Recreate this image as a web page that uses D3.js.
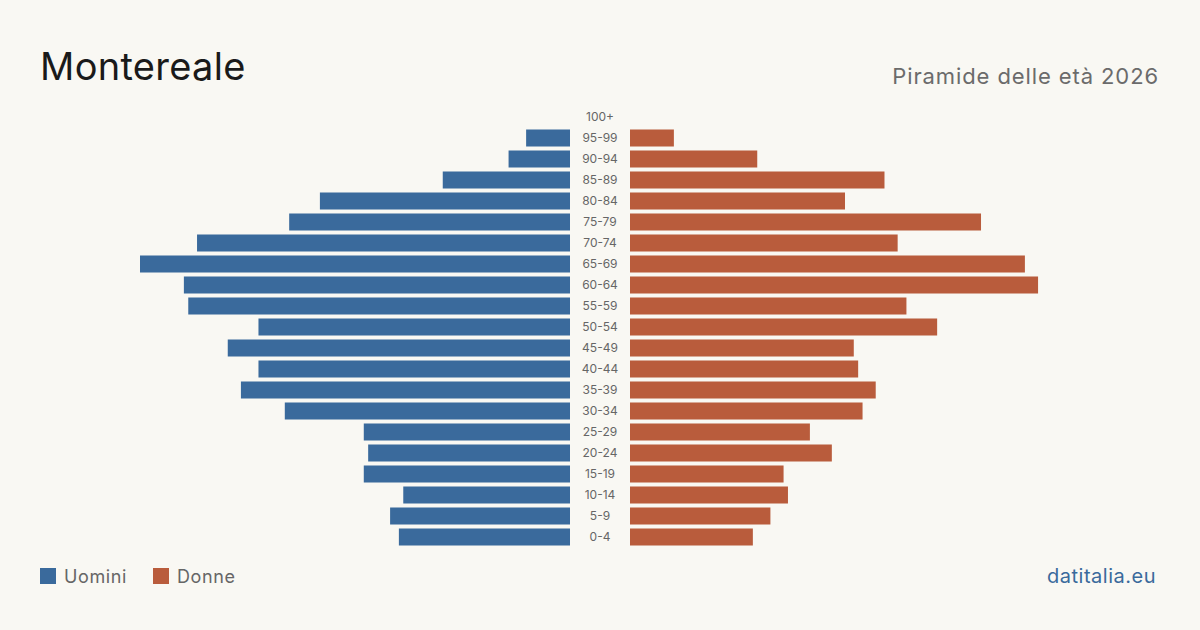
<!DOCTYPE html>
<html>
<head>
<meta charset="utf-8">
<script src="https://cdn.jsdelivr.net/npm/d3@7"></script>
<style>
  body { margin: 0; background: #f9f8f3; }
  svg { display: block; font-family: Inter, "Noto Sans", sans-serif; }
</style>
</head>
<body>
<div id="chart"></div>
<script>
const ageGroups = ['100+', '95-99', '90-94', '85-89', '80-84', '75-79', '70-74', '65-69', '60-64', '55-59',
  '50-54', '45-49', '40-44', '35-39', '30-34', '25-29', '20-24', '15-19', '10-14', '5-9', '0-4'];
const men = [0, 10, 14, 29, 57, 64, 85, 98, 88, 87, 71, 78, 71, 75, 65, 47, 46, 47, 38, 41, 39];
const women = [0, 10, 29, 58, 49, 80, 61, 90, 93, 63, 70, 51, 52, 56, 53, 41, 46, 35, 36, 32, 28];

const width = 1200, height = 630;
const blue = '#3a6a9c', orange = '#b95c3c';

const svg = d3.select('#chart')
    .append('svg')
    .attr('width', width)
    .attr('height', height);

svg.append('rect')
    .attr('width', width)
    .attr('height', height)
    .attr('fill', '#f9f8f3');

const maxVal = d3.max(men.concat(women));

const y = d3.scaleBand()
    .domain(ageGroups)
    .range([106.5, 547.5])
    .paddingInner(0.19)
    .paddingOuter(0.095);

const xLeft = d3.scaleLinear().domain([0, maxVal]).range([570, 140]);
const xRight = d3.scaleLinear().domain([0, maxVal]).range([630, 1060]);

svg.append('g')
    .selectAll('rect')
    .data(ageGroups)
    .join('rect')
    .attr('x', (d, i) => xLeft(men[i]))
    .attr('y', d => y(d))
    .attr('width', (d, i) => xLeft(0) - xLeft(men[i]))
    .attr('height', y.bandwidth())
    .attr('fill', blue);

svg.append('g')
    .selectAll('rect')
    .data(ageGroups)
    .join('rect')
    .attr('x', xRight(0))
    .attr('y', d => y(d))
    .attr('width', (d, i) => xRight(women[i]) - xRight(0))
    .attr('height', y.bandwidth())
    .attr('fill', orange);

svg.append('g')
    .selectAll('text')
    .data(ageGroups)
    .join('text')
    .attr('x', 600)
    .attr('y', d => y(d) + y.bandwidth() / 2)
    .attr('dy', '0.35em')
    .attr('text-anchor', 'middle')
    .attr('font-size', 12)
    .attr('fill', '#666')
    .text(d => d);

// titles
svg.append('text')
    .attr('x', 40)
    .attr('y', 80)
    .attr('font-size', 38)
    .attr('letter-spacing', 0.3)
    .attr('fill', '#1a1a1a')
    .text('Montereale');

svg.append('text')
    .attr('x', 1159)
    .attr('y', 84)
    .attr('text-anchor', 'end')
    .attr('font-size', 22)
    .attr('letter-spacing', 0.9)
    .attr('fill', '#6b6b6b')
    .text('Piramide delle età 2026');

// legend
const legend = [{ label: 'Uomini', color: blue, x: 40 }, { label: 'Donne', color: orange, x: 153 }];
const lg = svg.append('g')
    .selectAll('g')
    .data(legend)
    .join('g')
    .attr('transform', d => `translate(${d.x}, 568)`);
lg.append('rect')
    .attr('width', 16)
    .attr('height', 16)
    .attr('fill', d => d.color);
lg.append('text')
    .attr('x', 24)
    .attr('y', 15)
    .attr('font-size', 18)
    .attr('letter-spacing', 0.6)
    .attr('fill', '#666')
    .text(d => d.label);

svg.append('text')
    .attr('x', 1156)
    .attr('y', 583)
    .attr('text-anchor', 'end')
    .attr('font-size', 20)
    .attr('letter-spacing', 0.5)
    .attr('fill', '#3a6a9c')
    .text('datitalia.eu');
</script>
</body>
</html>
